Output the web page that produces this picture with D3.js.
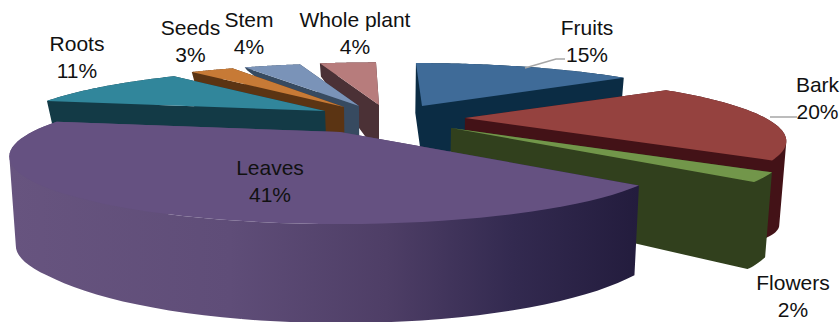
<!DOCTYPE html>
<html><head><meta charset="utf-8">
<script src="https://cdn.jsdelivr.net/npm/d3@7"></script>
<style>html,body{margin:0;padding:0;background:#fff}svg{display:block}
text{font-family:"Liberation Sans",Arial,sans-serif;font-size:21px;fill:#111}</style>
</head><body>
<svg id="c" width="840" height="322" viewBox="0 0 840 322"></svg>
<script>
// data
const categories = ["Fruits","Bark","Flowers","Leaves","Roots","Seeds","Stem","Whole plant"];
const values = [15,20,2,41,11,3,4,4];
// styles
const topColors  = ["#3f6b98","#95423f","#72964a","#655181","#31869b","#c77a36","#7a93b8","#b77c7c"];
const wallColors = ["#0b2c44","#431217","#31401d","url(#leafWall)","#133a46","#5b3413","#374a60","#4b3136"];
// layout: explode offset of every slice apex from the pie centre, radius, shear and wall depth
const center = [380,115];
const explode = [[42,-9],[85,3],[71,13],[-40,17],[-55,-4],[-36,-8],[-21,-9],[-1,-10]];
const radiusFactor = [1.01,0.985,1.02,1.01,0.99,1,1,1];
const shear = [6,0,0,0,0,0,3,3];
const depthDomains = [[60,110],[88,130,160],[128,180],[120,187,224],[76,111],[68,107],[64,68,106],[62,105]];
const depthRanges  = [[50,50],[88,88,78],[73,87],[88,90,99],[26,26],[8,50],[3,3,50],[12,50]];
const labelX = [587,817.5,793,270,77,190.5,249,355];
const labelY = [35,92,290,175,51,35,27,27];
const drawOrder = [7,6,5,4,0,1,2,3];

const Rx = 305, Ry = 58, persp = 0.36;
const depths = depthDomains.map((d,i)=>d3.scaleLinear().domain(d).range(depthRanges[i]).clamp(true));
const svg = d3.select("#c");
const defs = svg.append("defs");
const grad = defs.append("linearGradient").attr("id","leafWall").attr("gradientUnits","userSpaceOnUse")
  .attr("x1",10).attr("x2",638).attr("y1",0).attr("y2",0);
[[0,"#67547f"],[0.35,"#5f4d78"],[0.6,"#4e3e66"],[0.8,"#332a50"],[1,"#231c3d"]]
  .forEach(s=>grad.append("stop").attr("offset",s[0]).attr("stop-color",s[1]));

const arcs = d3.pie().sort(null).startAngle(0).endAngle(2*Math.PI)(values);
const line = d3.line().curve(d3.curveLinearClosed);

function project(i,theta,r){
  const u = Math.sin(theta)*r*radiusFactor[i], v = -Math.cos(theta)*r*radiusFactor[i];
  const s = 1/(1-persp*v);
  return [center[0]+explode[i][0]+Rx*u*s+shear[i]*v, center[1]+explode[i][1]+Ry*v*s];
}
function lower(i,p){
  return [p[0]+(center[0]-p[0])*0.0175, p[1]+depths[i](p[1])];
}
// all quads of one wall share a winding, so the nonzero fill joins them without seams
function oriented(pts){
  return d3.polygonArea(pts) < 0 ? pts.slice().reverse() : pts;
}
drawOrder.forEach(i=>{
  const a = arcs[i];
  const rim = d3.range(0,61).map(k=>project(i,a.startAngle+(a.endAngle-a.startAngle)*k/60,1));
  const apex = project(i,0,0);
  const first = rim[0], last = rim[rim.length-1];
  const quads = [first,last].map(p=>[apex,p,lower(i,p),lower(i,apex)])
    .concat(d3.pairs(rim).map(([p,q])=>[p,q,lower(i,q),lower(i,p)]));
  svg.append("path").attr("d",quads.map(q=>line(oriented(q))).join("")).attr("fill",wallColors[i]);
  svg.append("path").attr("d",line([apex].concat(rim))).attr("fill",topColors[i]);
});

// leader lines
const leaders = [[[525,68],[556,59],[565,59]],[[770,117],[797,117]]];
leaders.forEach(l=>svg.append("path").attr("d",d3.line()(l)).attr("fill","none").attr("stroke","#a6a6a6").attr("stroke-width",1.5));

categories.forEach((c,i)=>{
  const t = svg.append("text").attr("text-anchor","middle");
  t.append("tspan").attr("x",labelX[i]).attr("y",labelY[i]).text(c);
  t.append("tspan").attr("x",labelX[i]).attr("y",labelY[i]+26.5).text(values[i]+"%");
});
</script>
</body></html>
